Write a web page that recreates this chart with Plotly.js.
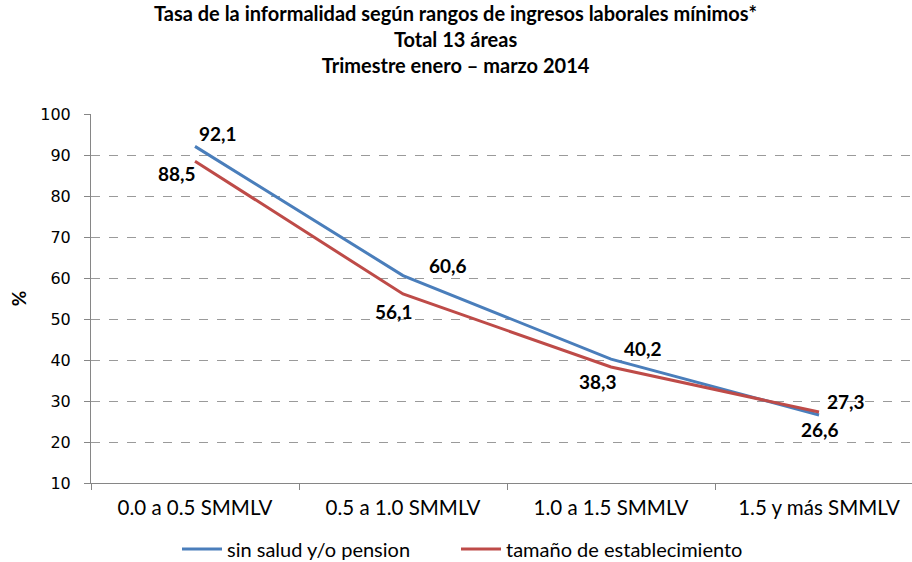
<!DOCTYPE html>
<html>
<head>
<meta charset="utf-8">
<script src="https://cdn.plot.ly/plotly-3.0.1.min.js"></script>
<style>html,body{margin:0;padding:0;background:#fff;}#chart{width:912px;height:562px;}</style>
</head>
<body>
<div id="chart"></div>
<script>
// ---- data ----
const categories = ["0.0 a 0.5 SMMLV", "0.5 a 1.0 SMMLV", "1.0 a 1.5 SMMLV", "1.5 y más SMMLV"];
const seriesNames = ["sin salud y/o pension", "tamaño de establecimiento"];
const sinSalud = [92.1, 60.6, 40.2, 26.6];
const tamano = [88.5, 56.1, 38.3, 27.3];
const yTicks = [10, 20, 30, 40, 50, 60, 70, 80, 90, 100];
const titleLines = ["Tasa de la informalidad según rangos de ingresos laborales mínimos*", "Total 13 áreas", "Trimestre enero – marzo 2014"];

// ---- style ----
const blue = "#4A7EBB";
const red = "#BE4B48";
const FONT = "Lato, 'Open Sans', sans-serif";
const labelFont = {family: FONT, size: 19, color: "#000"};
const blueShift = [[23, 13], [45, 10], [32, 11], [1, -15]];
const redShift = [[-18, -12], [-9, -18], [-13, -15], [27, 11]];

function fmt(v) { return v.toFixed(1).replace(".", ","); }

const annotations = [];
function addLabels(vals, shifts) {
  vals.forEach((v, i) => {
    annotations.push({
      x: categories[i], y: v, xref: "x", yref: "y",
      text: "<b>" + fmt(v) + "</b>", showarrow: false,
      xanchor: "center", yanchor: "middle",
      xshift: shifts[i][0], yshift: shifts[i][1],
      font: labelFont
    });
  });
}
addLabels(sinSalud, blueShift);
addLabels(tamano, redShift);

const traces = [
  {x: categories, y: sinSalud, name: seriesNames[0], type: "scatter", mode: "lines",
   line: {color: blue, width: 3}, legend: "legend"},
  {x: categories, y: tamano, name: seriesNames[1], type: "scatter", mode: "lines",
   line: {color: red, width: 3}, legend: "legend2"}
];

const legendBase = {
  orientation: "h", xref: "container", yref: "container",
  xanchor: "left", y: 1 - 549 / 562, yanchor: "middle",
  font: {family: FONT, size: 20, color: "#000"},
  itemwidth: 40
};

const layout = {
  width: 912, height: 562,
  margin: {l: 91, r: 0, t: 114, b: 79},
  paper_bgcolor: "#fff", plot_bgcolor: "#fff",
  showlegend: true,
  title: {
    text: "<b>" + titleLines.join("<br>") + "</b>",
    font: {family: FONT, size: 20, color: "#000"},
    xref: "container", x: 0.4995, xanchor: "center",
    yref: "container", y: 1 - 21 / 562, yanchor: "top"
  },
  xaxis: {
    type: "category", range: [-0.5, 3.447],
    showline: true, linecolor: "#868686", linewidth: 1,
    ticks: "outside", tickson: "boundaries", ticklen: 6, tickcolor: "#868686",
    showgrid: false, zeroline: false,
    tickfont: {family: FONT, size: 20.5, color: "#000"},
    ticklabelstandoff: 6, fixedrange: true
  },
  yaxis: {
    range: [10, 100], tickvals: yTicks, ticktext: yTicks.map(String),
    showline: true, linecolor: "#868686", linewidth: 1,
    ticks: "outside", ticklen: 6, tickcolor: "#868686",
    showgrid: true, gridcolor: "#9a9a9a", griddash: "dash", gridwidth: 1,
    zeroline: false,
    tickfont: {family: "'DejaVu Sans', sans-serif", size: 16, color: "#000"},
    ticklabelstandoff: 10,
    title: {text: "<b>%</b>", font: {family: FONT, size: 19, color: "#000"}, standoff: 8},
    fixedrange: true
  },
  legend: Object.assign({}, legendBase, {x: 177 / 912}),
  legend2: Object.assign({}, legendBase, {x: 456 / 912}),
  annotations: annotations
};

Plotly.newPlot("chart", traces, layout, {displayModeBar: false, staticPlot: true});
</script>
</body>
</html>
